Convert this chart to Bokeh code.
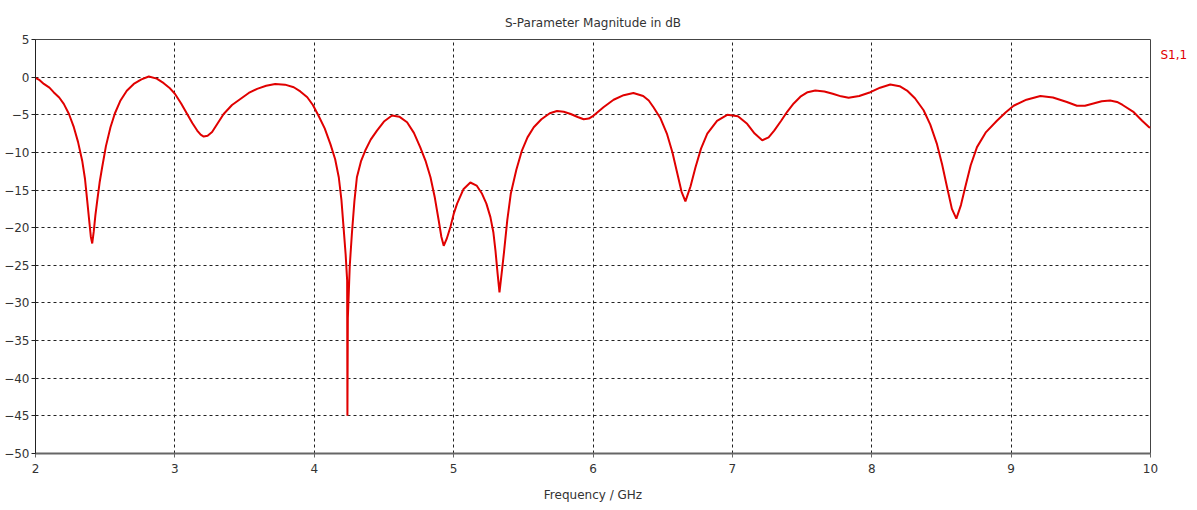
from bokeh.plotting import figure
from bokeh.models import Range1d, FixedTicker, LinearAxis
from bokeh.embed import file_html
from bokeh.resources import INLINE

# Frequency (GHz) and S1,1 magnitude (dB)
freq = [2.0, 2.03, 2.06, 2.10, 2.13, 2.17, 2.203, 2.24, 2.275, 2.305,
        2.335, 2.355, 2.371, 2.385, 2.397, 2.407, 2.418, 2.43, 2.443, 2.46,
        2.478, 2.505, 2.538, 2.57, 2.61, 2.655, 2.705, 2.76, 2.813, 2.87,
        2.92, 2.96, 3.0, 3.045, 3.088, 3.125, 3.16, 3.185, 3.207, 3.235,
        3.267, 3.305, 3.35, 3.41, 3.47, 3.53, 3.59, 3.655, 3.72, 3.79,
        3.853, 3.90, 3.95, 3.99, 4.03, 4.075, 4.116, 4.15, 4.176, 4.195,
        4.21, 4.225, 4.236, 4.238, 4.241, 4.255, 4.27, 4.288, 4.306, 4.335,
        4.366, 4.405, 4.45, 4.50, 4.558, 4.61, 4.666, 4.715, 4.76, 4.80,
        4.834, 4.865, 4.893, 4.912, 4.929, 4.95, 4.977, 5.0, 5.025, 5.07,
        5.12, 5.165, 5.204, 5.235, 5.264, 5.285, 5.30, 5.315, 5.329, 5.345,
        5.36, 5.385, 5.41, 5.45, 5.49, 5.53, 5.575, 5.63, 5.69, 5.742,
        5.79, 5.84, 5.89, 5.933, 5.97, 6.005, 6.075, 6.148, 6.22, 6.29,
        6.36, 6.40, 6.434, 6.485, 6.53, 6.57, 6.60, 6.635, 6.663, 6.70,
        6.735, 6.775, 6.82, 6.89, 6.963, 7.04, 7.106, 7.16, 7.214, 7.26,
        7.30, 7.35, 7.393, 7.44, 7.488, 7.54, 7.595, 7.66, 7.72, 7.78,
        7.834, 7.91, 7.99, 8.06, 8.133, 8.20, 8.253, 8.31, 8.372, 8.42,
        8.468, 8.505, 8.54, 8.575, 8.607, 8.64, 8.671, 8.71, 8.755, 8.82,
        8.898, 8.96, 9.018, 9.11, 9.21, 9.30, 9.40, 9.472, 9.53, 9.59,
        9.65, 9.71, 9.76, 9.80, 9.88, 9.94, 9.99, 10.0]
s11_db = [-0.1, -0.4, -0.9, -1.4, -2.0, -2.7, -3.55, -4.9, -6.65, -8.6,
          -11.1, -13.5, -16.4, -19.0, -21.2, -22.1, -20.5, -18.3, -16.4, -14.0,
          -12.0, -9.2, -6.65, -4.8, -3.1, -1.8, -0.9, -0.3, 0.08, -0.2,
          -0.8, -1.4, -2.2, -3.5, -4.9, -6.1, -7.1, -7.65, -7.9, -7.8,
          -7.3, -6.2, -4.9, -3.7, -2.9, -2.1, -1.56, -1.15, -0.9, -1.0,
          -1.34, -1.9, -2.67, -3.7, -5.1, -6.8, -8.9, -10.9, -13.3, -16.3,
          -19.9, -23.5, -27.0, -45.0, -32.0, -25.0, -20.8, -16.5, -13.3, -11.2,
          -9.75, -8.3, -7.1, -5.9, -5.1, -5.25, -6.0, -7.4, -9.3, -11.2,
          -13.3, -16.0, -19.05, -21.2, -22.4, -21.5, -19.9, -18.2, -16.8, -14.9,
          -14.0, -14.4, -15.5, -16.8, -18.6, -20.6, -23.0, -26.0, -28.6, -26.0,
          -23.5, -19.0, -15.5, -12.3, -9.75, -8.0, -6.65, -5.6, -4.8, -4.5,
          -4.6, -4.9, -5.3, -5.6, -5.5, -5.1, -4.0, -3.0, -2.4, -2.1,
          -2.5, -3.1, -4.0, -5.5, -7.5, -10.0, -12.4, -15.2, -16.5, -14.5,
          -12.0, -9.5, -7.5, -5.8, -5.0, -5.2, -6.2, -7.5, -8.4, -8.0,
          -7.1, -5.8, -4.6, -3.5, -2.6, -2.0, -1.78, -1.9, -2.2, -2.55,
          -2.75, -2.5, -2.0, -1.4, -0.98, -1.2, -1.78, -2.8, -4.4, -6.3,
          -8.9, -11.6, -14.6, -17.5, -18.8, -17.0, -14.6, -11.7, -9.3, -7.3,
          -5.8, -4.7, -3.8, -3.0, -2.5, -2.7, -3.3, -3.8, -3.8, -3.5,
          -3.2, -3.1, -3.3, -3.7, -4.66, -5.8, -6.65, -6.7]

x_ticks = [2, 3, 4, 5, 6, 7, 8, 9, 10]
y_ticks = [5, 0, -5, -10, -15, -20, -25, -30, -35, -40, -45, -50]
series_name = "S1,1"
legend_level_db = 2.9   # vertical place of the series name beside the frame

FONT = "DejaVu Sans"
TXT = "#333333"
RED = "#e00000"

p = figure(frame_width=1115, frame_height=414,
           min_border_left=35, min_border_right=47, min_border_top=39, min_border_bottom=49,
           x_range=Range1d(2, 10), y_range=Range1d(-50, 5),
           output_backend="svg", toolbar_location=None,
           title="S-Parameter Magnitude in dB")
p.background_fill_color = "white"
p.border_fill_color = "white"
p.outline_line_color = "#444444"
p.outline_line_width = 1

p.title.align = "center"
p.title.vertical_align = "top"
p.title.text_font = FONT
p.title.text_font_size = "12px"
p.title.text_font_style = "normal"
p.title.text_color = TXT
p.title.standoff = 16

p.xaxis.ticker = FixedTicker(ticks=x_ticks)
p.yaxis.ticker = FixedTicker(ticks=y_ticks)
for ax in (p.xaxis[0], p.yaxis[0]):
    ax.major_label_text_font = FONT
    ax.major_label_text_font_size = "12px"
    ax.major_label_text_color = TXT
    ax.minor_tick_line_color = None
    ax.major_tick_in = 0
    ax.major_tick_out = 4
    ax.axis_label_text_font = FONT
    ax.axis_label_text_font_size = "12px"
    ax.axis_label_text_font_style = "normal"
    ax.axis_label_text_color = TXT
p.yaxis.axis_line_color = "#222222"
p.yaxis.major_tick_line_color = "#222222"
p.yaxis.major_label_standoff = 2
p.xaxis.axis_line_color = "#666666"
p.xaxis.axis_line_width = 2
p.xaxis.major_tick_line_color = "#666666"
p.xaxis.major_label_standoff = 6
p.xaxis.axis_label = "Frequency / GHz"
p.xaxis.axis_label_standoff = 12

p.xgrid.grid_line_color = "#222222"
p.ygrid.grid_line_color = "#222222"
p.xgrid.grid_line_dash = "3 3"
p.ygrid.grid_line_dash = "3 3"
p.xgrid.grid_line_width = 1
p.ygrid.grid_line_width = 1

p.line(freq, s11_db, line_color=RED, line_width=2)

# series name beside the frame on the right, drawn as a right-side axis label
name_axis = LinearAxis(ticker=FixedTicker(ticks=[legend_level_db]),
                       major_label_overrides={legend_level_db: series_name})
name_axis.axis_line_color = None
name_axis.major_tick_line_color = None
name_axis.minor_tick_line_color = None
name_axis.major_tick_in = 0
name_axis.major_tick_out = 0
name_axis.major_label_standoff = 10
name_axis.major_label_text_font = FONT
name_axis.major_label_text_font_size = "12px"
name_axis.major_label_text_color = RED
p.add_layout(name_axis, "right")

open("out.html", "w").write(file_html(p, INLINE))
